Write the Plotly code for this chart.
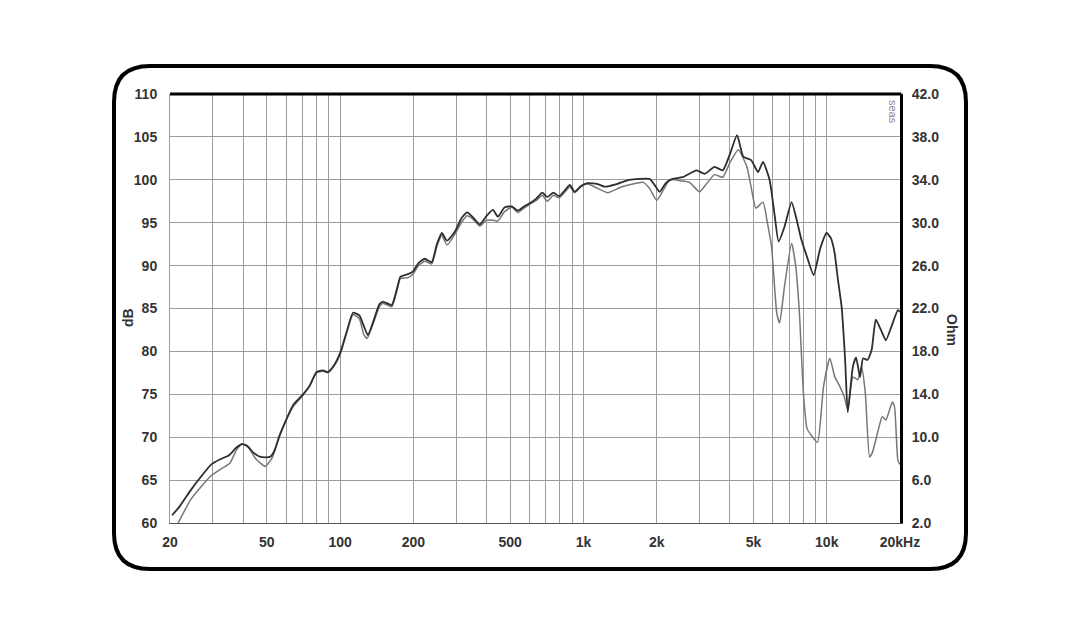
import plotly.graph_objects as go

# ---------------- data ----------------
freq_a = [20.4, 22, 24.3, 27, 29.5, 32, 35, 37.5, 39.6, 41.5, 44, 47, 51.5, 53.5, 56.6, 60, 64.3, 70, 75, 80,
          85, 89, 94, 100, 107, 113, 120, 125, 130, 137, 145, 150, 163, 172, 177, 190, 199, 210, 223, 238,
          250, 262, 275, 297, 315, 333, 355, 375, 400, 425, 445, 475, 508, 538, 570, 605, 640, 678, 710, 753,
          795, 840, 880, 920, 980, 1040, 1144, 1220, 1370, 1544, 1870, 1950, 2055, 2180, 2322, 2555, 2917, 3150, 3460, 3740,
          4000, 4280, 4540, 4890, 5220, 5470, 5820, 6100, 6340, 6700, 7170, 7500, 7870, 8300, 8830, 9400, 9980, 10400, 10770, 11100,
          11510, 11900, 12200, 12800, 13200, 13700, 14100, 14700, 15300, 15900, 16700, 17500, 18500, 19600, 20000]
spl_a = [60.9, 62.0, 63.8, 65.5, 66.8, 67.4, 67.9, 68.8, 69.2, 69.0, 68.2, 67.7, 67.7, 68.3, 70.3, 72.0, 73.8, 74.9, 76.0, 77.6,
         77.8, 77.6, 78.3, 79.8, 82.5, 84.5, 84.2, 83.0, 81.9, 83.5, 85.5, 85.8, 85.4, 87.5, 88.7, 89.0, 89.3, 90.3, 90.8, 90.4,
         92.5, 93.8, 92.9, 94.0, 95.5, 96.2, 95.5, 94.8, 95.8, 96.5, 95.7, 96.8, 96.9, 96.4, 96.9, 97.3, 97.8, 98.5, 98.0, 98.5,
         98.1, 98.8, 99.4, 98.6, 99.3, 99.6, 99.5, 99.2, 99.5, 100.0, 100.1, 99.5, 98.6, 99.6, 100.1, 100.3, 101.1, 100.7, 101.5, 101.1,
         103.0, 105.2, 102.7, 102.3, 100.9, 102.1, 100.0, 96.0, 92.8, 94.5, 97.4, 95.5, 93.0, 91.0, 88.9, 92.0, 93.8, 93.2, 91.5, 88.5,
         85.2, 79.0, 72.9, 78.2, 79.3, 77.0, 79.2, 79.0, 80.2, 83.7, 82.5, 81.3, 83.0, 84.8, 84.6]

freq_b = [21.6, 24.3, 27, 29.5, 32, 35.3, 37.5, 39.6, 42, 45, 49.2, 52.6, 56.6, 60, 64.3, 70, 75, 80, 85, 89,
          94, 100, 107, 113, 120, 125, 129, 137, 145, 150, 163, 172, 177, 190, 199, 210, 223, 238, 250, 262,
          275, 297, 315, 333, 355, 375, 400, 425, 445, 475, 508, 538, 570, 605, 640, 678, 710, 753, 795, 840,
          880, 920, 980, 1040, 1144, 1260, 1440, 1760, 1870, 2000, 2150, 2260, 2500, 2730, 3000, 3200, 3460, 3740, 4000, 4330,
          4700, 4900, 5110, 5470, 5700, 5930, 6230, 6400, 6700, 7170, 7450, 7720, 8020, 8300, 8600, 9160, 9700, 10300, 10800, 11240,
          11800, 12200, 12800, 13400, 13900, 14400, 15000, 15400, 16400, 16900, 17500, 18600, 19000, 19600, 20000]
spl_b = [60.0, 62.7, 64.3, 65.5, 66.2, 67.0, 68.5, 69.2, 68.8, 67.5, 66.6, 67.6, 70.3, 72.0, 73.6, 74.8, 76.0, 77.5, 77.7, 77.5,
         78.2, 79.6, 82.4, 84.3, 83.8, 82.0, 81.5, 83.3, 85.2, 85.6, 85.2, 87.3, 88.5, 88.6, 89.0, 90.0, 90.5, 90.2, 92.3, 93.5,
         92.4, 93.7, 95.0, 95.8, 95.3, 94.6, 95.3, 95.3, 95.2, 96.3, 96.8, 96.2, 96.7, 97.2, 97.6, 98.2, 97.5, 98.2, 97.9, 98.6,
         99.2, 98.5, 99.2, 99.5, 99.0, 98.5, 99.2, 99.7, 99.0, 97.6, 99.0, 100.0, 99.9, 99.7, 98.6, 99.5, 100.6, 100.3, 102.0, 103.5,
         101.5, 99.0, 96.7, 97.4, 95.0, 92.2, 84.5, 83.3, 87.5, 92.6, 90.0, 84.5, 75.1, 71.0, 70.3, 69.4, 75.9, 79.2, 77.0, 76.1,
         74.7, 73.2, 77.0, 76.7, 78.2, 75.2, 67.7, 68.2, 71.2, 72.4, 72.0, 74.1, 73.5, 67.3, 66.8]

x_grid = [20, 30, 40, 50, 60, 70, 80, 90, 100, 200, 300, 400, 500, 600, 700, 800, 900,
          1000, 2000, 3000, 4000, 5000, 6000, 7000, 8000, 9000, 10000, 20000]
x_labels = {20: "20", 50: "50", 100: "100", 200: "200", 500: "500", 1000: "1k",
            2000: "2k", 5000: "5k", 10000: "10k", 20000: "20kHz"}
db_ticks = [60, 65, 70, 75, 80, 85, 90, 95, 100, 105, 110]
ohm_ticks = [2.0, 6.0, 10.0, 14.0, 18.0, 22.0, 26.0, 30.0, 34.0, 38.0, 42.0]

# ---------------- figure ----------------
W, H = 1080, 635
OFF = 8  # page body margin
L, R, T, B = 170, 900, 94, 523  # plot area in screen pixels

fig = go.Figure()
fig.add_trace(go.Scatter(x=freq_b, y=spl_b, mode="lines",
                         line=dict(color="#777777", width=1.5, shape="spline", smoothing=0.5),
                         hoverinfo="skip", showlegend=False))
fig.add_trace(go.Scatter(x=freq_a, y=spl_a, mode="lines",
                         line=dict(color="#2e2e2e", width=1.8, shape="spline", smoothing=0.5),
                         hoverinfo="skip", showlegend=False))
# invisible trace to activate the Ohm axis
fig.add_trace(go.Scatter(x=[20], y=[2], yaxis="y2", mode="markers",
                         marker=dict(opacity=0), hoverinfo="skip", showlegend=False))

tickfont = dict(family="Liberation Sans, Arial", size=14, color="#333333", weight="bold")
GRID = "#9c9c9c"

fig.update_layout(
    width=W, height=H,
    margin=dict(l=L - OFF, r=W - R + OFF, t=T - OFF, b=H - B + OFF, pad=0),
    paper_bgcolor="white", plot_bgcolor="white",
    xaxis=dict(type="log", range=[1.30103, 4.30103], tickvals=x_grid,
               ticktext=[x_labels.get(v, "") for v in x_grid],
               showgrid=True, gridcolor=GRID, gridwidth=1.4,
               showline=True, linecolor="#555555", linewidth=1,
               ticks="", ticklabelstandoff=6, tickfont=tickfont, zeroline=False),
    yaxis=dict(range=[60, 110], tickvals=db_ticks, ticktext=[str(v) for v in db_ticks],
               showgrid=True, gridcolor=GRID, gridwidth=1.4,
               showline=True, linecolor=GRID, linewidth=1,
               ticks="", ticklabelstandoff=9, tickfont=tickfont, zeroline=False),
    yaxis2=dict(range=[2, 42], overlaying="y", side="right", tickvals=ohm_ticks,
                ticktext=[f"{v:.1f}" for v in ohm_ticks], showgrid=False,
                showline=True, linecolor="black", linewidth=3,
                ticks="", ticklabelstandoff=6, tickfont=tickfont, zeroline=False),
)

# top thick border
fig.add_shape(type="line", xref="paper", yref="paper", x0=0, x1=1.002, y0=1, y1=1,
              line=dict(color="black", width=3))


# rounded outer frame (screen px -> paper coords)
def px(x):
    return (x - L) / (R - L)


def py(y):
    return (B - y) / (B - T)


fl, fr, ft, fb, rad = 114, 966, 66, 569, 36
pts = [
    ("M", [(fl + rad, ft)]),
    ("L", [(fr - rad, ft)]),
    ("Q", [(fr, ft), (fr, ft + rad)]),
    ("L", [(fr, fb - rad)]),
    ("Q", [(fr, fb), (fr - rad, fb)]),
    ("L", [(fl + rad, fb)]),
    ("Q", [(fl, fb), (fl, fb - rad)]),
    ("L", [(fl, ft + rad)]),
    ("Q", [(fl, ft), (fl + rad, ft)]),
]
path = ""
for cmd, ps in pts:
    path += cmd + " " + " ".join(f"{px(a):.5f},{py(b):.5f}" for a, b in ps) + " "
path += "Z"
fig.add_shape(type="path", xref="paper", yref="paper", path=path,
              line=dict(color="black", width=4), fillcolor="rgba(0,0,0,0)")

# axis titles
fig.add_annotation(xref="paper", yref="paper", x=px(128), y=py(318), text="dB",
                   textangle=-90, showarrow=False, xanchor="center", yanchor="middle",
                   font=dict(family="Liberation Sans, Arial", size=14, color="#333333", weight="bold"))
fig.add_annotation(xref="paper", yref="paper", x=px(952), y=py(330), text="Ohm",
                   textangle=90, showarrow=False, xanchor="center", yanchor="middle",
                   font=dict(family="Liberation Sans, Arial", size=14, color="#333333", weight="bold"))
# small rotated watermark
fig.add_annotation(xref="paper", yref="paper", x=px(893), y=py(112), text="seas",
                   textangle=90, showarrow=False, xanchor="center", yanchor="middle",
                   font=dict(family="Liberation Sans, Arial", size=11, color="#8a8a8a"))

fig.write_html("out.html")
